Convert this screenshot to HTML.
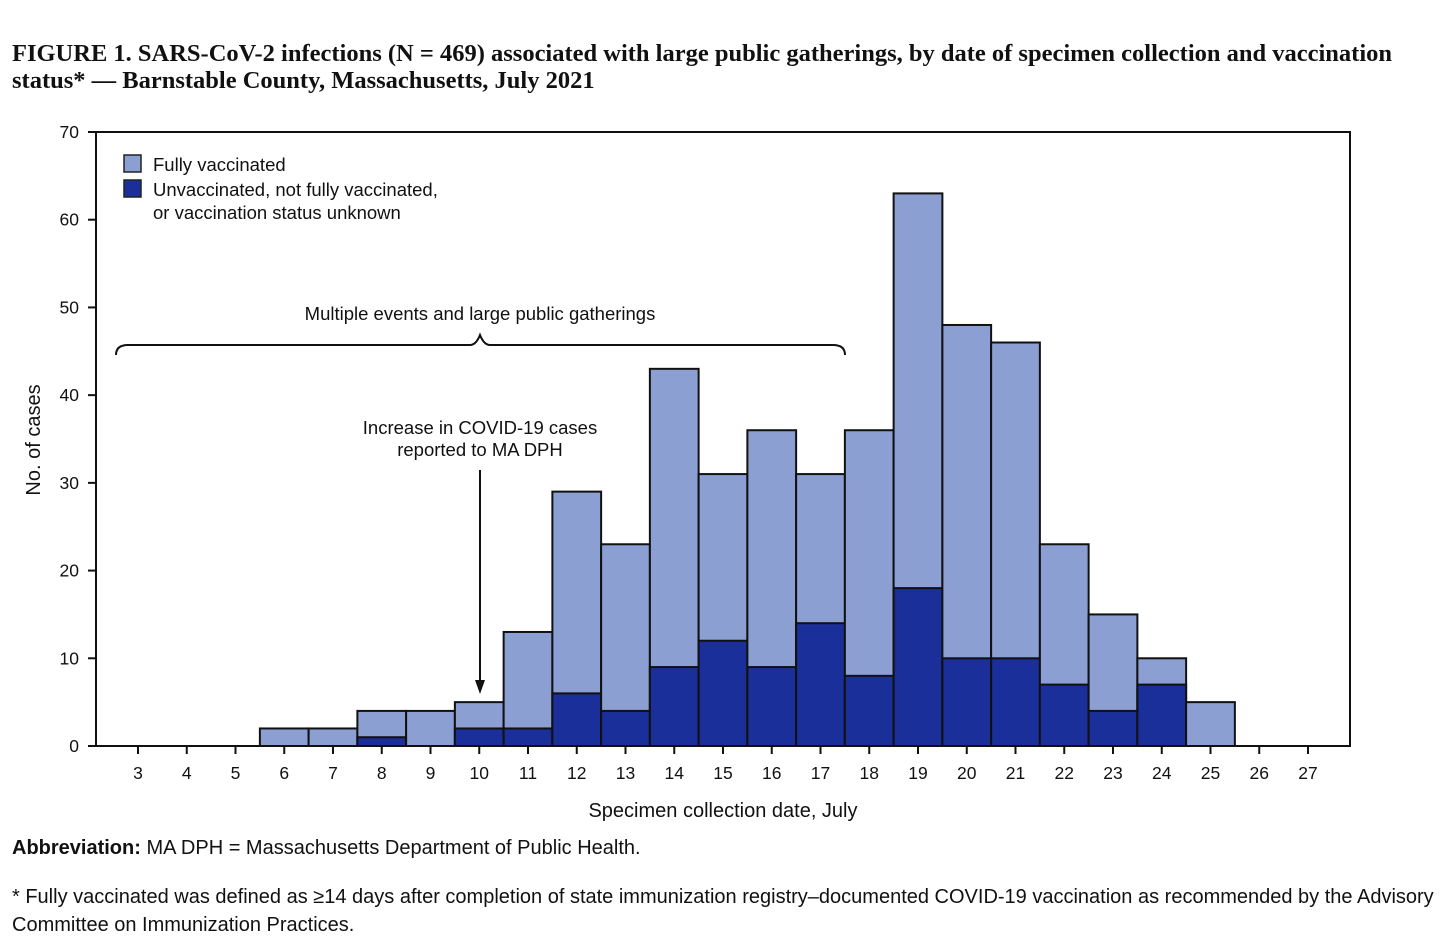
<!DOCTYPE html>
<html><head><meta charset="utf-8"><style>
body{margin:0;background:#fff;width:1450px;height:945px;overflow:hidden;font-family:"Liberation Sans",sans-serif;}
.title{position:absolute;left:12px;top:40px;font-family:"Liberation Serif",serif;font-weight:bold;font-size:24.5px;line-height:27px;color:#111;width:1405px;}
.note{position:absolute;left:12px;font-size:20px;color:#111;}
</style></head><body>
<div class="title">FIGURE 1. SARS-CoV-2 infections (N = 469) associated with large public gatherings, by date of specimen collection and vaccination status* — Barnstable County, Massachusetts, July 2021</div>
<svg id="chart" width="1450" height="945" style="position:absolute;left:0;top:0" font-family="Liberation Sans, sans-serif"></svg>
<div class="note" style="top:837px"><b>Abbreviation:</b> MA DPH = Massachusetts Department of Public Health.</div>
<div class="note" style="top:883px;line-height:28px;width:1435px">* Fully vaccinated was defined as ≥14 days after completion of state immunization registry–documented COVID-19 vaccination as recommended by the Advisory Committee on Immunization Practices.</div>
<script>
const days=[3,4,5,6,7,8,9,10,11,12,13,14,15,16,17,18,19,20,21,22,23,24,25,26,27];
const totals=[0,0,0,2,2,4,4,5,13,29,23,43,31,36,31,36,63,48,46,23,15,10,5,0,0];
const unvacc=[0,0,0,0,0,1,0,2,2,6,4,9,12,9,14,8,18,10,10,7,4,7,0,0,0];
const yTicks=[0,10,20,30,40,50,60,70];
const NS='http://www.w3.org/2000/svg';
const svg=document.getElementById('chart');
const x0=96,x1=1350,y0=746,yTop=132;
const y=v=>y0-(v/70)*(y0-yTop);
const step=48.75;
const x=d=>138+(d-3)*step;
function mk(t,a,p){const e=document.createElementNS(NS,t);for(const k in a)e.setAttribute(k,a[k]);(p||svg).appendChild(e);return e;}
days.forEach((d,i)=>{
  if(totals[i]>0){
    const b=mk('rect',{x:x(d)-step/2,y:y(totals[i]),width:step,height:y(0)-y(totals[i]),fill:'#8b9fd2',stroke:'#111','stroke-width':2});
    
    
  }
  if(unvacc[i]>0){
    const b=mk('rect',{x:x(d)-step/2,y:y(unvacc[i]),width:step,height:y(0)-y(unvacc[i]),fill:'#1a2f9a',stroke:'#111','stroke-width':2});
    
    
  }
});
const fr=mk('path',{d:`M${x0},${y0}V${yTop}H${x1}V${y0}H${x0}`,fill:'none',stroke:'#111','stroke-width':2});


yTicks.forEach(v=>{
  mk('line',{x1:88,x2:x0,y1:y(v),y2:y(v),stroke:'#111','stroke-width':2});
  const t=mk('text',{x:79,y:y(v)+6,'text-anchor':'end','font-size':17.5,fill:'#111'});t.textContent=v;
  
  
});
days.forEach(d=>{
  mk('line',{x1:x(d),x2:x(d),y1:y0,y2:y0+8,stroke:'#111','stroke-width':2});
  const t=mk('text',{x:x(d),y:y0+33,'text-anchor':'middle','font-size':17.5,fill:'#111'});t.textContent=d;
  
  
});
let t=mk('text',{x:723,y:817,'text-anchor':'middle','font-size':20,fill:'#111'});t.textContent='Specimen collection date, July';


t=mk('text',{x:0,y:0,'text-anchor':'middle','font-size':20,fill:'#111',transform:'translate(40,440) rotate(-90)'});t.textContent='No. of cases';


let r=mk('rect',{x:124,y:155,width:17,height:17,fill:'#8b9fd2',stroke:'#222','stroke-width':1.5});


r=mk('rect',{x:124,y:180,width:17,height:17,fill:'#1a2f9a',stroke:'#222','stroke-width':1.5});


[['Fully vaccinated',171],['Unvaccinated, not fully vaccinated,',196],['or vaccination status unknown',219]].forEach(([s,yy])=>{
  const e=mk('text',{x:153,y:yy,'font-size':18.5,fill:'#111'});e.textContent=s;
  
  
});
const br=mk('path',{d:'M116,355 Q116,345 128,345 H470 Q476,345 480,335 Q484,345 490,345 H833 Q845,345 845,355',fill:'none',stroke:'#111','stroke-width':2});


t=mk('text',{x:480,y:320,'text-anchor':'middle','font-size':18.5,fill:'#111'});t.textContent='Multiple events and large public gatherings';


[['Increase in COVID-19 cases',434],['reported to MA DPH',456]].forEach(([s,yy])=>{
  const e=mk('text',{x:480,y:yy,'text-anchor':'middle','font-size':18.5,fill:'#111'});e.textContent=s;
  
  
});
const ar=mk('line',{x1:480,x2:480,y1:470,y2:684,stroke:'#111','stroke-width':2});


mk('path',{d:'M475,680 L485,680 L480,694 Z',fill:'#111'});
</script>
</body></html>
